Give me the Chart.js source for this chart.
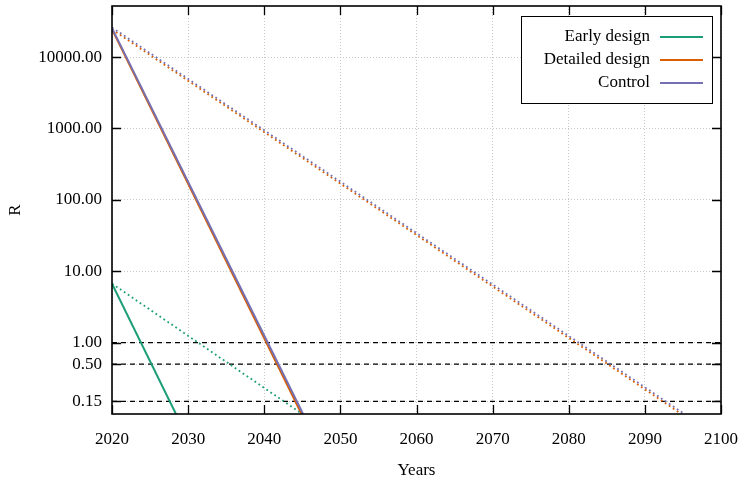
<!DOCTYPE html>
<html><head><meta charset="utf-8">
<script src="https://cdn.jsdelivr.net/npm/chart.js@4/dist/chart.umd.min.js"></script>
<style>html,body{margin:0;padding:0;background:#fff}canvas{display:block}</style>
</head><body>
<canvas id="c" width="743" height="481"></canvas>
<script>
// ---- data ----
const seriesNames = ['Early design', 'Detailed design', 'Control'];
const xTicks = [2020, 2030, 2040, 2050, 2060, 2070, 2080, 2090, 2100];
const yTicks = [0.15, 0.5, 1, 10, 100, 1000, 10000];
const thresholds = [1, 0.5, 0.15];

const earlyYears = [2020, 2028.4];
const earlyValues = [6.7, 0.1];
const earlyTrendYears = [2020, 2045];
const earlyTrendValues = [6.7, 0.1];

const detailedYears = [2020, 2044.9];
const detailedValues = [24500, 0.1];
const detailedTrendYears = [2020, 2094.8];
const detailedTrendValues = [24500, 0.1];

const controlYears = [2020, 2045.1];
const controlValues = [25500, 0.1];
const controlTrendYears = [2020, 2095.2];
const controlTrendValues = [26000, 0.1];

// ---- styles ----
const GREEN = '#1b9e77', ORANGE = '#d95f02', PURPLE = '#7570b3';
const FONT = '"Liberation Serif", "Times New Roman", serif';
const colors = [GREEN, ORANGE, PURPLE];

const pts = (xs, ys) => xs.map((x, i) => ({x: x, y: ys[i]}));

const datasets = [
  {label: seriesNames[2], data: pts(controlYears, controlValues), borderColor: PURPLE, borderWidth: 2, order: 0},
  {label: seriesNames[1], data: pts(detailedYears, detailedValues), borderColor: ORANGE, borderWidth: 2, order: 1},
  {label: seriesNames[0], data: pts(earlyYears, earlyValues), borderColor: GREEN, borderWidth: 2, order: 2},
  {label: seriesNames[2] + ' trend', data: pts(controlTrendYears, controlTrendValues), borderColor: PURPLE, borderWidth: 1.8, borderDash: [1.8, 3], order: 3},
  {label: seriesNames[1] + ' trend', data: pts(detailedTrendYears, detailedTrendValues), borderColor: ORANGE, borderWidth: 1.8, borderDash: [1.8, 3], order: 4},
  {label: seriesNames[0] + ' trend', data: pts(earlyTrendYears, earlyTrendValues), borderColor: GREEN, borderWidth: 1.8, borderDash: [1.8, 3], order: 5},
];
thresholds.forEach((t, i) => datasets.push({
  label: 'R = ' + t, data: pts([xTicks[0], xTicks[xTicks.length - 1]], [t, t]),
  borderColor: '#000', borderWidth: 1.2, borderDash: [5, 4], order: 6 + i
}));
datasets.forEach(d => { d.pointRadius = 0; d.fill = false; d.tension = 0; });

const frameAndTicks = {
  id: 'frameAndTicks',
  afterDatasetsDraw(chart) {
    const {ctx, chartArea: a, scales: {x, y}} = chart;
    ctx.save();
    ctx.strokeStyle = '#000';
    ctx.lineWidth = 1.3;
    ctx.beginPath();
    const L = 9;
    xTicks.forEach(v => {
      const px = Math.round(x.getPixelForValue(v)) + 0.5;
      ctx.moveTo(px, a.bottom); ctx.lineTo(px, a.bottom - L);
      ctx.moveTo(px, a.top); ctx.lineTo(px, a.top + L);
    });
    yTicks.forEach(v => {
      const py = Math.round(y.getPixelForValue(v)) + 0.5;
      ctx.moveTo(a.left, py); ctx.lineTo(a.left + L, py);
      ctx.moveTo(a.right, py); ctx.lineTo(a.right - L, py);
    });
    ctx.stroke();
    ctx.lineWidth = 1.6;
    ctx.strokeRect(a.left, a.top, a.right - a.left, a.bottom - a.top);
    // legend
    const bx = a.right - 200, by = a.top + 10, bw = 191, bh = 87;
    ctx.fillStyle = '#fff';
    ctx.fillRect(bx, by, bw, bh);
    ctx.lineWidth = 1;
    ctx.strokeStyle = '#000';
    ctx.strokeRect(bx + 0.5, by + 0.5, bw, bh);
    ctx.font = '17px ' + FONT;
    ctx.textAlign = 'right';
    ctx.textBaseline = 'middle';
    seriesNames.forEach((n, i) => {
      const ly = by + 21 + i * 23;
      ctx.fillStyle = '#000';
      ctx.fillText(n, bx + 129, ly);
      ctx.strokeStyle = colors[i];
      ctx.lineWidth = 2;
      ctx.beginPath();
      ctx.moveTo(bx + 139, ly); ctx.lineTo(bx + 182, ly);
      ctx.stroke();
    });
    ctx.restore();
  }
};

new Chart(document.getElementById('c'), {
  type: 'line',
  data: {datasets},
  plugins: [frameAndTicks],
  options: {
    responsive: false,
    animation: false,
    devicePixelRatio: 1,
    layout: {padding: {left: 0, right: 22, top: 6, bottom: 0}},
    plugins: {legend: {display: false}, tooltip: {enabled: false}},
    scales: {
      x: {
        type: 'linear', min: 2020, max: 2100,
        afterBuildTicks: s => { s.ticks = xTicks.map(v => ({value: v})); },
        afterFit: s => { s.height = 67; s.paddingLeft = 0; s.paddingRight = 0; },
        ticks: {font: {family: FONT, size: 17}, color: '#000', padding: 15, callback: v => String(v), maxRotation: 0},
        grid: {color: '#c8c8c8', lineWidth: 1, borderDash: [1, 2], drawTicks: false},
        border: {display: false, dash: [1, 2]},
        title: {display: true, text: 'Years', font: {family: FONT, size: 17}, color: '#000', padding: {top: 0, bottom: 0}}
      },
      y: {
        type: 'logarithmic', min: 0.1, max: 52000,
        afterBuildTicks: s => { s.ticks = yTicks.map(v => ({value: v})); },
        afterFit: s => { s.width = 112; s.paddingTop = 0; s.paddingBottom = 0; },
        ticks: {font: {family: FONT, size: 17}, color: '#000', padding: 10, callback: v => Number(v).toFixed(2)},
        grid: {color: '#c8c8c8', lineWidth: 1, drawTicks: false},
        border: {display: false, dash: [1, 2]},
        title: {display: true, text: 'R', font: {family: FONT, size: 17}, color: '#000', padding: {top: 5, bottom: 0}}
      }
    }
  }
});
</script>
</body></html>
